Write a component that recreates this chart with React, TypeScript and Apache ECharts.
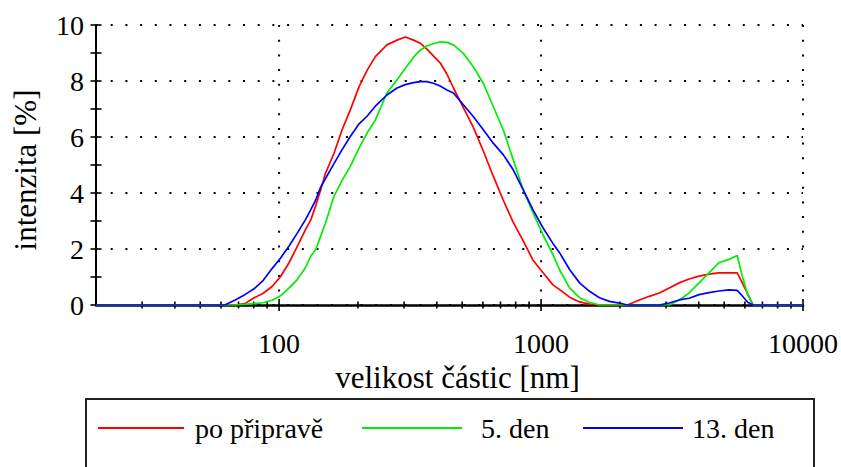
import React, { useEffect, useRef } from "react";
import * as echarts from "echarts";

// particle size bins [nm]
const sizes = [20, 55, 62, 68, 74, 80, 87, 94, 101, 109, 117, 126, 132, 138, 144, 150, 162, 174, 187, 202, 217, 233, 258, 282, 303, 326, 346, 366, 388, 412, 437, 463, 505, 551, 602, 657, 717, 783, 854, 932, 1018, 1110, 1178, 1285, 1403, 1531, 1671, 1824, 1992, 2136, 2373, 2590, 2827, 3085, 3367, 3675, 4011, 4378, 4778, 5215, 5608, 5860, 6150, 6450, 10000];

// intensity [%]
const poPriprave = [0, 0, 0, 0, 0.05, 0.25, 0.42, 0.66, 1.0, 1.5, 2.07, 2.68, 3.03, 3.55, 4.1, 4.68, 5.42, 6.26, 6.97, 7.8, 8.39, 8.87, 9.29, 9.46, 9.57, 9.46, 9.35, 9.15, 8.9, 8.65, 8.25, 7.75, 7.05, 6.35, 5.5, 4.6, 3.75, 2.95, 2.3, 1.6, 1.15, 0.72, 0.55, 0.28, 0.11, 0.03, 0, 0, 0, 0, 0.18, 0.31, 0.43, 0.61, 0.79, 0.93, 1.03, 1.1, 1.15, 1.15, 1.15, 0.8, 0.4, 0, 0];
const den5 = [0, 0, 0, 0, 0.02, 0.05, 0.08, 0.17, 0.32, 0.6, 0.89, 1.33, 1.74, 1.98, 2.45, 2.9, 3.88, 4.45, 4.95, 5.6, 6.15, 6.6, 7.57, 8.04, 8.45, 8.85, 9.1, 9.25, 9.33, 9.4, 9.38, 9.29, 8.99, 8.51, 7.92, 7.09, 6.26, 5.19, 4.12, 3.29, 2.5, 1.8, 1.25, 0.61, 0.26, 0.1, 0, 0, 0, 0, 0, 0, 0, 0, 0.18, 0.43, 0.79, 1.15, 1.51, 1.63, 1.77, 1.04, 0.37, 0, 0];
const den13 = [0, 0, 0, 0.18, 0.37, 0.57, 0.88, 1.3, 1.66, 2.1, 2.55, 3.04, 3.4, 3.75, 4.2, 4.5, 5.05, 5.55, 6.02, 6.47, 6.75, 7.1, 7.5, 7.75, 7.87, 7.94, 7.98, 7.98, 7.92, 7.82, 7.68, 7.57, 7.15, 6.73, 6.26, 5.78, 5.37, 4.83, 4.12, 3.4, 2.75, 2.2, 1.86, 1.27, 0.79, 0.49, 0.26, 0.13, 0.07, 0, 0, 0, 0, 0.07, 0.18, 0.24, 0.37, 0.44, 0.5, 0.54, 0.52, 0.33, 0.1, 0, 0];

const seriesNames = ["po připravě", "5. den", "13. den"];
const seriesColors = ["#ff0000", "#00ee00", "#0000ff"];

// axis ticks and grid
const xMajorTicks = [100, 1000, 10000];
const xMinorTicks = [30, 40, 50, 60, 70, 80, 90, 200, 300, 400, 500, 600, 700, 800, 900, 2000, 3000, 4000, 5000, 6000, 7000, 8000, 9000];
const yTicks = [0, 1, 2, 3, 4, 5, 6, 7, 8, 9, 10];
const xGridValues = [100, 1000, 10000];

const FONT = "'Liberation Serif', 'Times New Roman', serif";
const DOT_DASH = [2, 12.7];

export default function App() {
  const ref = useRef<HTMLDivElement>(null);

  useEffect(() => {
    if (!ref.current) return;
    const chart = echarts.init(ref.current, null, { renderer: "svg" });

    const lineData = (vals: number[]) => sizes.map((s, i) => [s, vals[i]]);

    const tickData = [
      ...xMajorTicks.map((v) => [v, 0, 0]),
      ...xMinorTicks.map((v) => [v, 0, 1]),
      ...yTicks.map((v) => [20, v, 2]),
    ];

    const option: any = {
      animation: false,
      backgroundColor: "#ffffff",
      grid: { left: 96, right: 37, top: 25, bottom: 162, containLabel: false },
      xAxis: {
        type: "log",
        logBase: 10,
        min: 20,
        max: 10000,
        name: "velikost částic [nm]",
        nameLocation: "middle",
        nameGap: 54,
        nameTextStyle: { fontFamily: FONT, fontSize: 31, color: "#000", padding: [0, 0, 0, 16] },
        axisLine: { show: true, lineStyle: { color: "#000", width: 2.5 } },
        axisTick: { show: false },
        minorTick: { show: false },
        splitLine: { show: false },
        axisLabel: {
          fontFamily: FONT,
          fontSize: 28,
          color: "#000",
          margin: 24,
          formatter: (v: number) => {
            const l = Math.log10(v);
            return Math.abs(l - Math.round(l)) < 1e-6 && Math.round(l) >= 2 ? String(Math.round(v)) : "";
          },
        },
      },
      yAxis: {
        type: "value",
        min: 0,
        max: 10,
        interval: 2,
        name: "intenzita [%]",
        nameLocation: "middle",
        nameGap: 55,
        nameTextStyle: { fontFamily: FONT, fontSize: 31, color: "#000", padding: [0, 10, 0, 0] },
        axisLine: { show: true, lineStyle: { color: "#000", width: 2 } },
        axisTick: { show: false },
        axisLabel: { fontFamily: FONT, fontSize: 28, color: "#000", margin: 12 },
        splitLine: { show: true, lineStyle: { color: "#000", width: 2, type: DOT_DASH } },
      },
      legend: [0, 1, 2].map((i) => ({
        data: [seriesNames[i]],
        left: [98, 362, 583][i],
        top: 414,
        padding: 0,
        icon: "rect",
        itemWidth: [86, 100, 100][i],
        itemHeight: 2,
        selectedMode: false,
        textStyle: { fontFamily: FONT, fontSize: 28, color: "#000", padding: [0, 0, 0, [6, 14, 4][i]] },
      })),
      graphic: [
        {
          type: "rect",
          shape: { x: 86, y: 399, width: 728, height: 100 },
          style: { fill: "none", stroke: "#222", lineWidth: 2 },
          silent: true,
        },
      ],
      series: [
        {
          type: "custom",
          name: "grid",
          z: 1,
          silent: true,
          data: xGridValues.map((v) => [v, 0]),
          encode: { x: 0, y: 1 },
          renderItem: (params: any, api: any) => {
            const p0 = api.coord([api.value(0), 0]);
            const p1 = api.coord([api.value(0), 10]);
            return {
              type: "line",
              shape: { x1: p0[0], y1: p1[1], x2: p0[0], y2: p0[1] },
              style: { stroke: "#000", lineWidth: 2, lineDash: DOT_DASH },
            };
          },
        },
        {
          type: "custom",
          name: "ticks",
          z: 3,
          silent: true,
          data: tickData,
          encode: { x: 0, y: 1 },
          renderItem: (params: any, api: any) => {
            const kind = api.value(2);
            const p = api.coord([api.value(0), api.value(1)]);
            let shape;
            if (kind === 0) shape = { x1: p[0], y1: p[1] - 6, x2: p[0], y2: p[1] + 6 };
            else if (kind === 1) shape = { x1: p[0], y1: p[1] - 3.5, x2: p[0], y2: p[1] + 3.5 };
            else shape = { x1: p[0] - 5.5, y1: p[1], x2: p[0] + 5.5, y2: p[1] };
            return { type: "line", shape, style: { stroke: "#000", lineWidth: 1.6 } };
          },
        },
        ...[poPriprave, den5, den13].map((vals, i) => ({
          type: "line",
          name: seriesNames[i],
          data: lineData(vals),
          showSymbol: false,
          smooth: false,
          z: 4 + i,
          color: seriesColors[i],
          lineStyle: { color: seriesColors[i], width: 1.7 },
          itemStyle: { color: seriesColors[i] },
        })),
      ],
    };

    chart.setOption(option);
    return () => chart.dispose();
  }, []);

  return (
    <div
      ref={ref}
      style={{ position: "fixed", left: 0, top: 0, width: 841, height: 467, background: "#fff" }}
    />
  );
}
